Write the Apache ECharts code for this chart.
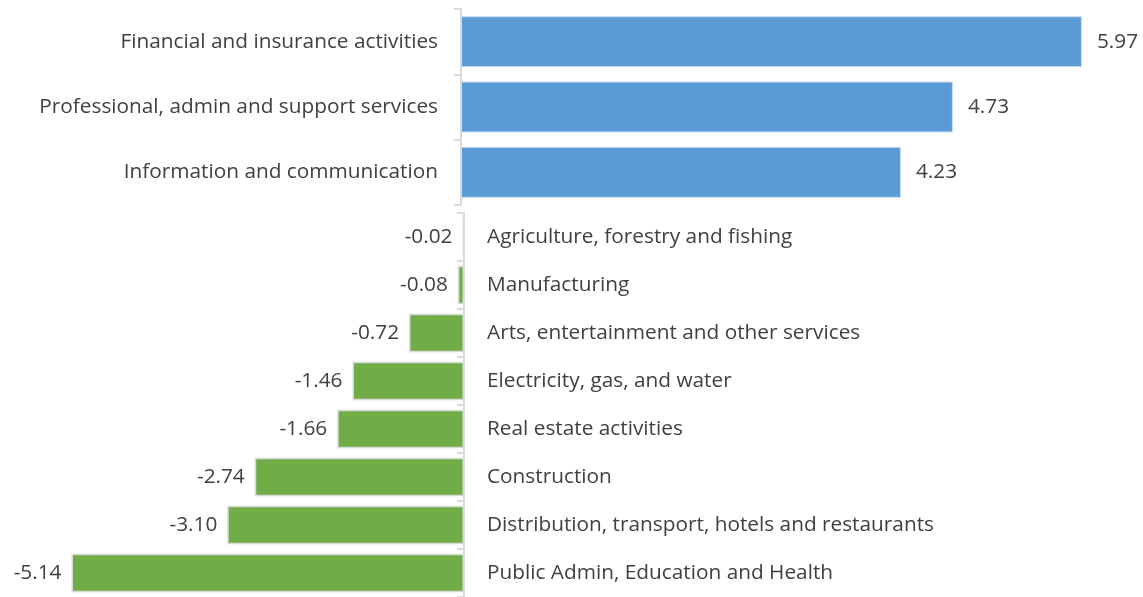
<!DOCTYPE html>
<html>
<head>
<meta charset="utf-8">
<script src="https://cdn.jsdelivr.net/npm/echarts@6/dist/echarts.min.js"></script>
<style>
  html, body { margin: 0; padding: 0; background: #fff; }
  #chart { width: 1143px; height: 597px; }
</style>
</head>
<body>
<div id="chart"></div>
<script>
// Sectors whose contribution rose
const gainSectors = [
  'Financial and insurance activities',
  'Professional, admin and support services',
  'Information and communication'
];
const gainValues = [5.97, 4.73, 4.23];

// Sectors whose contribution fell
const lossSectors = [
  'Agriculture, forestry and fishing',
  'Manufacturing',
  'Arts, entertainment and other services',
  'Electricity, gas, and water',
  'Real estate activities',
  'Construction',
  'Distribution, transport, hotels and restaurants',
  'Public Admin, Education and Health'
];
const lossValues = [-0.02, -0.08, -0.72, -1.46, -1.66, -2.74, -3.10, -5.14];

const FONT = 'Open Sans';
const SIZE = 20.8;
const TEXT = '#404040';
const AXIS = '#d9d9d9';
const fmt = p => p.value.toFixed(2);

const chart = echarts.init(document.getElementById('chart'), null, { renderer: 'canvas' });
chart.setOption({
  animation: false,
  backgroundColor: '#ffffff',
  textStyle: { fontFamily: FONT, color: TEXT },
  grid: [
    { left: 461, width: 624, top: 9, height: 196, containLabel: false },
    { left: 44, right: 679, top: 213, bottom: -2, containLabel: false }
  ],
  xAxis: [
    { gridIndex: 0, type: 'value', min: 0, max: 6, show: false },
    { gridIndex: 1, type: 'value', min: -5.5, max: 0, show: false }
  ],
  yAxis: [
    {
      gridIndex: 0, type: 'category', data: gainSectors, inverse: true, position: 'left',
      axisLine: { show: true, lineStyle: { color: AXIS, width: 2 } },
      axisTick: { show: true, length: 7, lineStyle: { color: AXIS, width: 2 } },
      axisLabel: { margin: 23, fontSize: SIZE, color: TEXT, fontFamily: FONT }
    },
    {
      gridIndex: 1, type: 'category', data: lossSectors, inverse: true, position: 'right',
      axisLine: { show: true, lineStyle: { color: AXIS, width: 2 } },
      axisTick: { show: true, inside: true, length: 7, lineStyle: { color: AXIS, width: 2 } },
      axisLabel: { margin: 23, fontSize: SIZE, color: TEXT, fontFamily: FONT }
    }
  ],
  series: [
    {
      type: 'bar', xAxisIndex: 0, yAxisIndex: 0, data: gainValues,
      barCategoryGap: '22%',
      itemStyle: { color: '#5b9bd5', borderColor: '#c9dcef', borderWidth: 1 },
      label: { show: true, position: 'right', distance: 15, formatter: fmt, fontSize: SIZE, color: TEXT, fontFamily: FONT }
    },
    {
      type: 'bar', xAxisIndex: 1, yAxisIndex: 1, data: lossValues,
      barCategoryGap: '20%',
      itemStyle: { color: '#70ad47', borderColor: '#d9d9d9', borderWidth: 1.5 },
      label: { show: true, position: 'left', distance: 10, formatter: fmt, fontSize: SIZE, color: TEXT, fontFamily: FONT }
    }
  ]
});
</script>
</body>
</html>
